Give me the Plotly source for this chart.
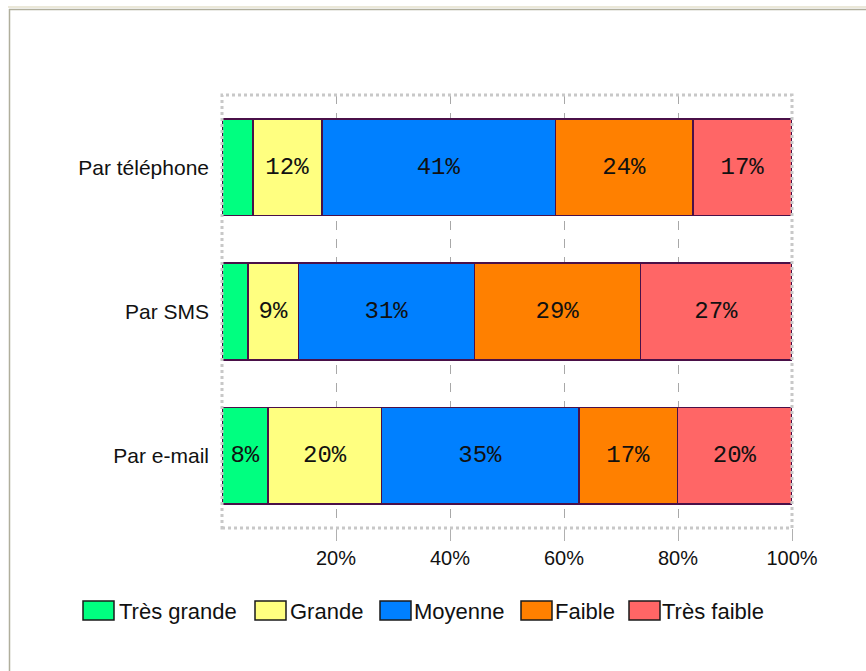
import plotly.graph_objects as go

# Survey: preferred contact channel, share of answers per level
channels = ["Par téléphone", "Par SMS", "Par e-mail"]
levels = ["Très grande", "Grande", "Moyenne", "Faible", "Très faible"]
tres_grande = [5.4, 4.6, 8.1]
grande = [12.1, 8.8, 19.9]
moyenne = [41.0, 30.9, 34.6]
faible = [24.1, 29.1, 17.3]
tres_faible = [17.4, 26.6, 20.1]
x_ticks = [20, 40, 60, 80, 100]
x_tick_labels = ["20%", "40%", "60%", "80%", "100%"]

series = [tres_grande, grande, moyenne, faible, tres_faible]
colors = ["#00FF80", "#FFFF80", "#0080FF", "#FF8000", "#FF6666"]

W, H = 866, 671
L, R, T, B = 222, 74, 95, 143
PW, PH = W - L - R, H - T - B


def px(x):
    return (x - L) / PW


def py(y):
    return (H - B - y) / PH


fig = go.Figure()
for name, vals, col in zip(levels, series, colors):
    fig.add_trace(go.Bar(
        y=channels, x=vals, name=name, orientation="h",
        marker=dict(color=col, line=dict(color="#4a1048", width=1.5)),
        text=[f"{v:.0f}%" if v >= 7 else "" for v in vals],
        textposition="inside", insidetextanchor="middle",
        textfont=dict(family="Liberation Mono", size=24, color="#111111"),
        width=0.67, showlegend=False, hoverinfo="x+name",
    ))

shapes = [
    # dotted frame around the plotting area
    dict(type="rect", xref="paper", yref="paper", x0=0, x1=1, y0=0, y1=1,
         line=dict(color="#c8c8c8", width=3, dash="dot"), layer="above"),
    # page frame
    dict(type="line", xref="paper", yref="paper", x0=px(8), x1=px(866),
         y0=py(7), y1=py(7), line=dict(color="#e4e0cc", width=1.5)),
    dict(type="line", xref="paper", yref="paper", x0=px(9), x1=px(866),
         y0=py(9.5), y1=py(9.5), line=dict(color="#b0ae9c", width=1.5)),
    dict(type="line", xref="paper", yref="paper", x0=px(9.5), x1=px(9.5),
         y0=py(9), y1=py(671), line=dict(color="#b0ae9c", width=1.5)),
]
annotations = []

# legend drawn as swatches with labels
legend_pos = [(83, 117), (255, 288), (380, 412), (521, 553), (629, 660)]
for (sx, tx), name, col in zip(legend_pos, levels, colors):
    shapes.append(dict(type="rect", xref="paper", yref="paper",
                       x0=px(sx), x1=px(sx + 31), y0=py(620), y1=py(601),
                       fillcolor=col, line=dict(color="#1a1a1a", width=1.5)))
    annotations.append(dict(xref="paper", yref="paper", x=px(tx), y=py(611),
                            text=name, showarrow=False, xanchor="left",
                            yanchor="middle",
                            font=dict(family="Liberation Sans", size=22,
                                      color="#111111")))

fig.update_layout(
    barmode="stack",
    width=W, height=H,
    margin=dict(l=L, r=R, t=T, b=B),
    paper_bgcolor="white", plot_bgcolor="white",
    bargap=0.33,
    xaxis=dict(range=[0, 100], tickvals=x_ticks, ticktext=x_tick_labels,
               showgrid=True, gridcolor="#a8a8a8", griddash="dash",
               gridwidth=1, ticks="outside", ticklen=12, tickcolor="#b0b0b0",
               tickfont=dict(family="Liberation Sans", size=20, color="#111111"),
               zeroline=False, showline=False, fixedrange=True),
    yaxis=dict(autorange="reversed", categoryorder="array",
               categoryarray=channels, showgrid=False, zeroline=False,
               showline=False, ticks="", ticklabelstandoff=12,
               tickfont=dict(family="Liberation Sans", size=21, color="#111111")),
    shapes=shapes,
    annotations=annotations,
    uniformtext=dict(mode="show", minsize=10),
)

fig.write_html("out.html")
